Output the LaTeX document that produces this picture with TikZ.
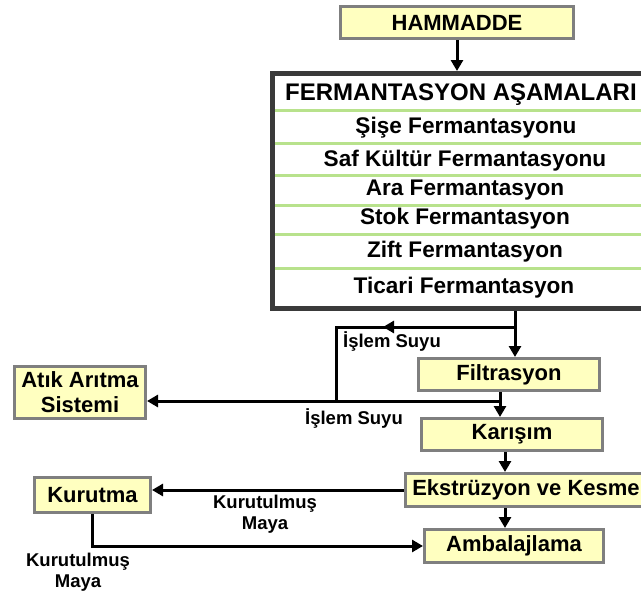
\documentclass[tikz,border=0pt]{standalone}
\usepackage{fontspec}
\setmainfont{Liberation Sans}
\usetikzlibrary{arrows.meta,calc}

\definecolor{boxfill}{HTML}{FFFFC0}
\definecolor{boxline}{HTML}{7F7F7F}
\definecolor{bigline}{HTML}{3A3A3A}
\definecolor{rowgreen}{HTML}{B8E28C}

\tikzset{
  proc/.style={draw=boxline, fill=boxfill, line width=3pt, inner sep=0pt,
    font=\bfseries\fontsize{22}{25}\selectfont, align=center},
  bigbox/.style={draw=bigline, fill=white, line width=5pt, inner sep=0pt},
  rowtext/.style={font=\bfseries\fontsize{22.6}{25}\selectfont, inner sep=0pt},
  titletext/.style={font=\bfseries\fontsize{24}{27}\selectfont, inner sep=0pt},
  lbl/.style={font=\bfseries\fontsize{18.5}{21.5}\selectfont, align=center, inner sep=0pt},
  flow/.style={line width=3pt, -{Triangle[length=11pt,width=12pt]}},
  plainline/.style={line width=3pt},
  greenrule/.style={draw=rowgreen, line width=3pt},
}

\begin{document}
\begin{tikzpicture}[x=1pt,y=-1pt]
\useasboundingbox (0,0) rectangle (641,597);
\clip (0,0) rectangle (641,597);

% boxes
\node[proc, minimum width=233pt, minimum height=32pt] (ham) at (457,22.5) {HAMMADDE};
\node[bigbox, minimum width=387.5pt, minimum height=235pt] (ferm) at (466.25,191) {};

% rows
\node[titletext] (t0) at (461,95) {FERMANTASYON AŞAMALARI};
\node[rowtext] (t1) at (466,128) {Şişe Fermantasyonu};
\node[rowtext] (t2) at (465,161) {Saf Kültür Fermantasyonu};
\node[rowtext] (t3) at (465,190) {Ara Fermantasyon};
\node[rowtext] (t4) at (465,219) {Stok Fermantasyon};
\node[rowtext] (t5) at (465,252) {Zift Fermantasyon};
\node[rowtext] (t6) at (464,288) {Ticari Fermantasyon};
\foreach \yy in {110,143,175,205,234,268}
  \draw[greenrule] (275,\yy) -- (641,\yy);

\node[proc, minimum width=181pt, minimum height=32pt] (filt) at (509,374.5) {Filtrasyon};
\node[proc, minimum width=131pt, minimum height=52pt] (atik) at (80,392.5) {Atık Arıtma\\Sistemi};
\node[proc, minimum width=181pt, minimum height=32pt] (kar) at (512,434.5) {Karışım};
\node[proc, minimum width=241pt, minimum height=33pt] (eks) at (526,490) {Ekstrüzyon ve Kesme};
\node[proc, minimum width=116pt, minimum height=35pt] (kur) at (92.5,495) {Kurutma};
\node[proc, minimum width=179pt, minimum height=33pt] (amb) at (514,546) {Ambalajlama};

% labels
\node[lbl] (l1) at (392,341) {İşlem Suyu};
\node[lbl] (l2) at (354,418) {İşlem Suyu};
\node[lbl] (l3) at (265,514) {Kurutulmuş\\Maya};
\node[lbl] (l4) at (78,572) {Kurutulmuş\\Maya};

% coordinates
\coordinate (b1) at (515,327);
\coordinate (m1) at (383,327);
\coordinate (c1) at (336,327);
\coordinate (c2) at (336,401);
\coordinate (b2) at (500,401);
\coordinate (v3) at (505,0);

% connectors
\draw[flow] (ham.south) -- (ham.south |- ferm.north);
\draw[plainline] (ferm.south -| b1) -- (b1);
\draw[flow] (b1) -- (filt.north -| b1);
\draw[plainline] (b1) -- (c1) -- (c2);
\draw[flow] (b1) -- (m1);
\draw[plainline] (filt.south -| b2) -- (b2);
\draw[flow] (b2) -- (kar.north -| b2);
\draw[flow] (b2) -- (atik.east |- b2);
\draw[flow] (kar.south -| v3) -- (eks.north -| v3);
\draw[flow] (eks.south -| v3) -- (amb.north -| v3);
\draw[flow] (eks.west) -- (kur.east |- eks.west);
\draw[flow] (kur.south) -- (kur.south |- amb.west) -- (amb.west);
\end{tikzpicture}
\end{document}
